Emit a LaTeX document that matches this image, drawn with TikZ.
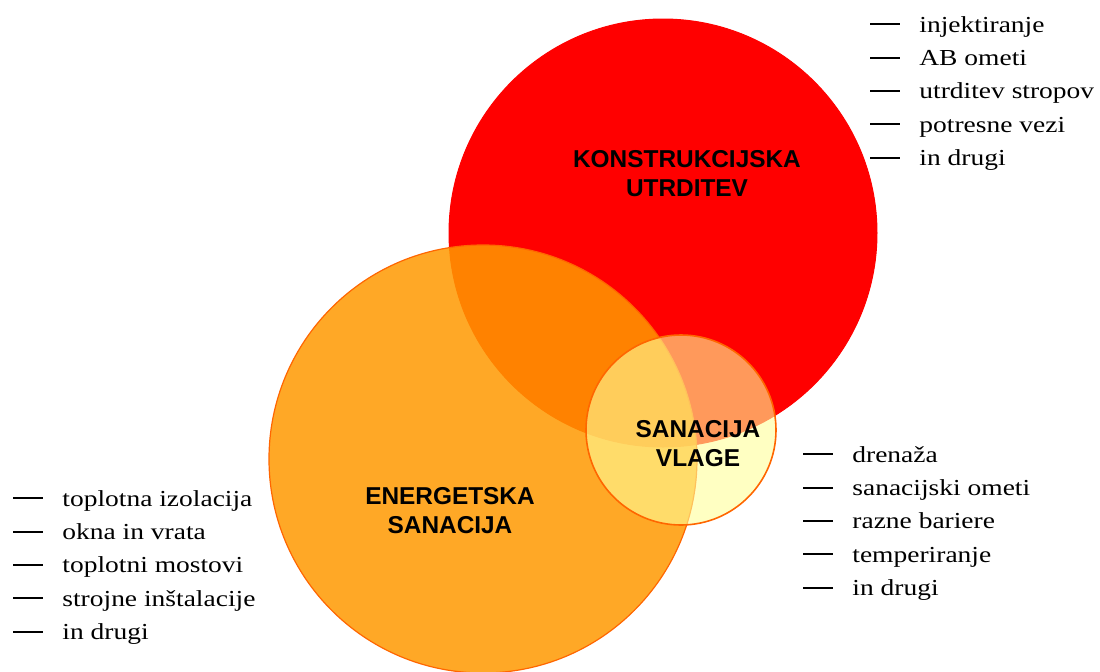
\documentclass[tikz,border=0pt]{standalone}
\usepackage{fontspec}
\newfontfamily\lstfont[FakeStretch=1.2]{Liberation Serif}
\newfontfamily\lblfont{Liberation Sans}
\definecolor{cred}{RGB}{255,0,0}
\definecolor{corange}{RGB}{255,153,0}
\definecolor{cedge}{RGB}{255,102,0}
\definecolor{cyellow}{RGB}{255,255,153}
\tikzset{
  x=0.5pt, y=-0.5pt,
  bigcirc/.style={circle, inner sep=0pt, minimum size=214pt},
  redc/.style={bigcirc, fill=cred, draw=cred, line width=0.5pt},
  orangec/.style={bigcirc, fill=corange, fill opacity=0.85, draw=cedge, line width=0.6pt},
  yellowc/.style={circle, inner sep=0pt, minimum size=95pt, fill=cyellow, fill opacity=0.6, draw=cedge, line width=0.8pt},
  lbl/.style={anchor=base, inner sep=0pt, font=\lblfont\bfseries\fontsize{12.2}{14.5}\selectfont},
  lst/.style={anchor=base west, inner sep=0pt, font=\lstfont\fontsize{11.45}{16.7}\selectfont},
}
\newcommand{\lbltab}[2]{\begin{tabular}[t]{@{}c@{}}#1\\#2\end{tabular}}
\newcommand{\dashmark}{\rule[0.3em]{15pt}{1pt}}
\begin{document}
\begin{tikzpicture}
\useasboundingbox (0,0) rectangle (1100,671);
\node[redc] (rc) at (663,233) {};
\node[orangec] (oc) at (483,459) {};
\node[yellowc] (yc) at (681,430) {};
\node[lbl] (kl) at (687,167) {\lbltab{KONSTRUKCIJSKA}{UTRDITEV}};
\node[lbl] (el) at (450,504) {\lbltab{ENERGETSKA}{SANACIJA}};
\node[lbl] (sl) at (698,437) {\lbltab{SANACIJA}{VLAGE}};
\node[lst] (kt) at (870,32) {\begin{tabular}[t]{@{}l@{\hspace{9.5pt}}l@{}}
\dashmark & injektiranje\\
\dashmark & AB ometi\\
\dashmark & utrditev stropov\\
\dashmark & potresne vezi\\
\dashmark & in drugi
\end{tabular}};
\node[lst] (et) at (13,506) {\begin{tabular}[t]{@{}l@{\hspace{9.5pt}}l@{}}
\dashmark & toplotna izolacija\\
\dashmark & okna in vrata\\
\dashmark & toplotni mostovi\\
\dashmark & strojne inštalacije\\
\dashmark & in drugi
\end{tabular}};
\node[lst] (st) at (803,462) {\begin{tabular}[t]{@{}l@{\hspace{9.5pt}}l@{}}
\dashmark & drenaža\\
\dashmark & sanacijski ometi\\
\dashmark & razne bariere\\
\dashmark & temperiranje\\
\dashmark & in drugi
\end{tabular}};
\end{tikzpicture}
\end{document}
